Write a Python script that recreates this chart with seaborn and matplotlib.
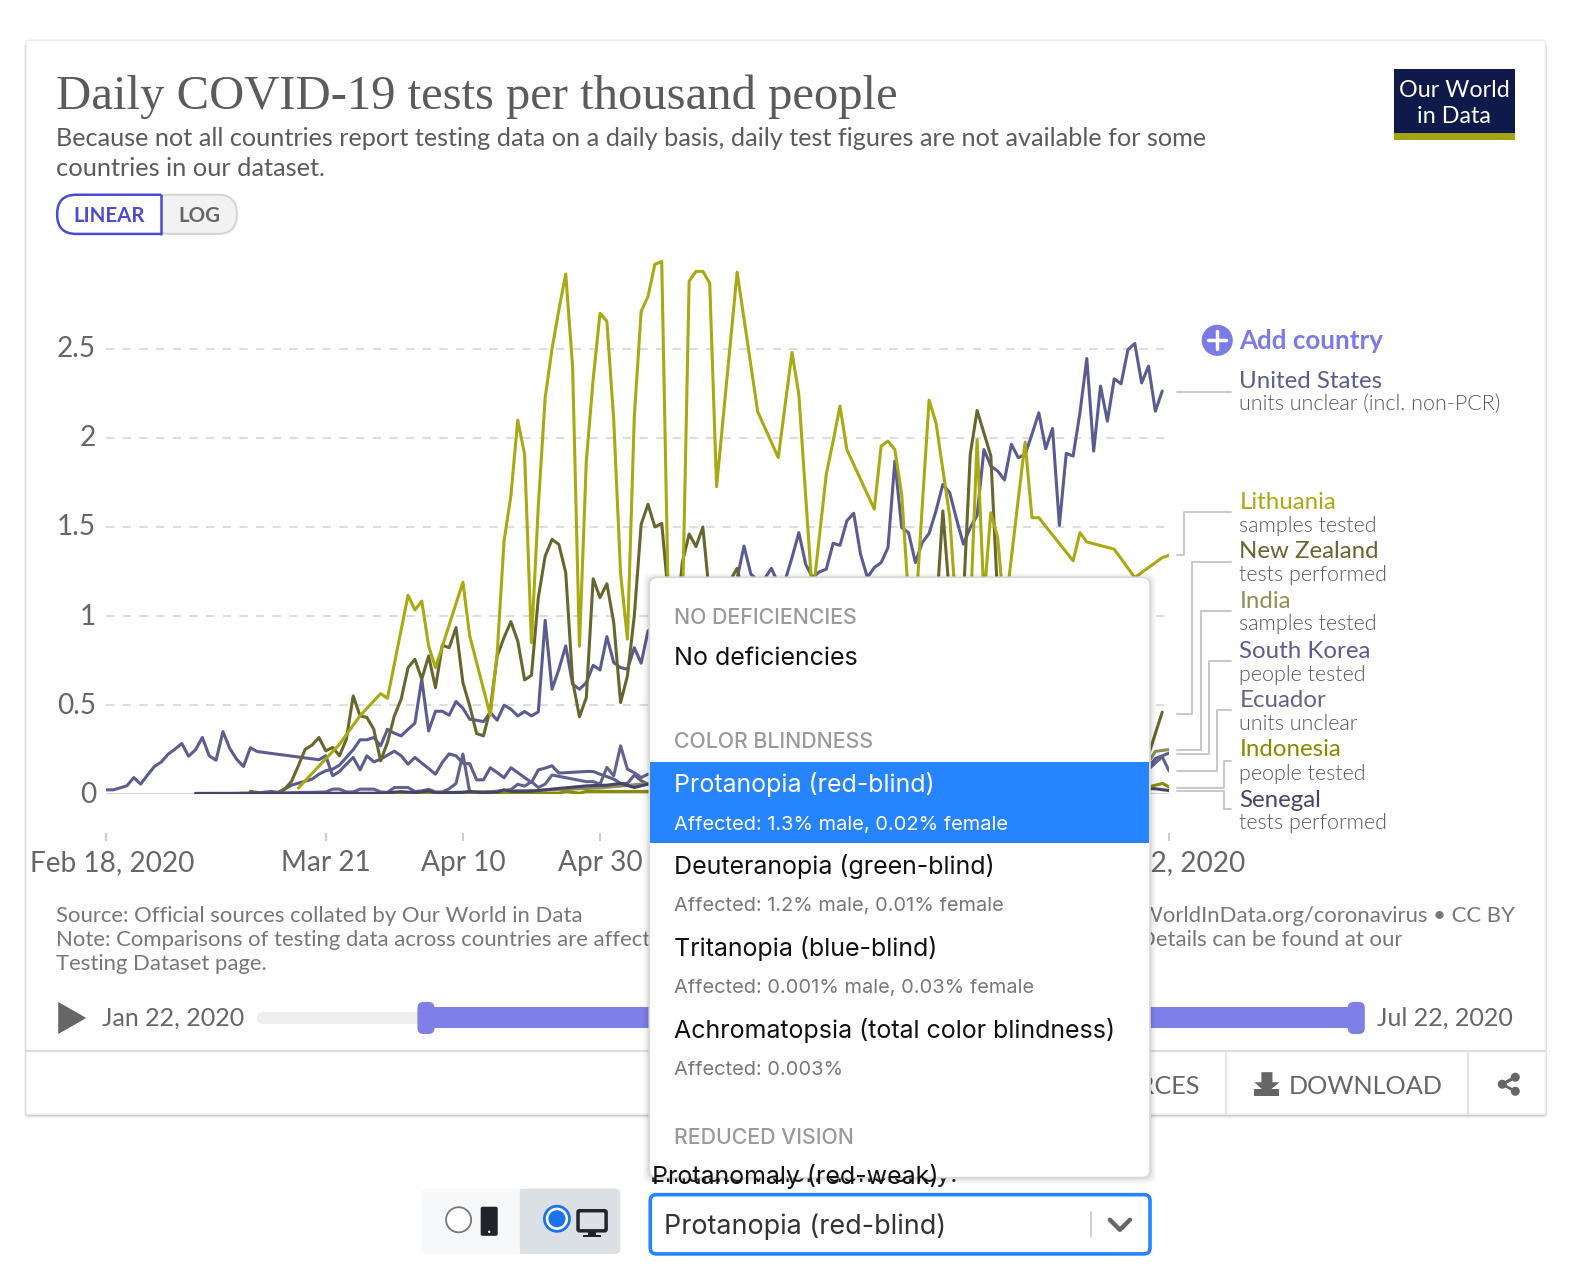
import numpy as np
import pandas as pd
import seaborn as sns
import matplotlib
matplotlib.use('Agg')
import matplotlib.pyplot as plt
from matplotlib.patches import FancyBboxPatch, Rectangle, Circle, Polygon
from matplotlib.transforms import ScaledTranslation

# x = days since Feb 18, 2020, y = daily tests per thousand
us_days = [19, 22, 24, 25, 26, 27] + list(range(30, 155))
us_vals = [.004, .006, .015, .01, .028, .05,
           .084, .112, .131, .14, .163, .206, .249, .305, .305, .318,
           .271, .364, .342, .327, .364, .398, .645, .355, .465, .465,
           .443, .52, .482, .42, .415, .407, .458, .415, .499, .477,
           .439, .464, .439, .462, .976, .589, .701, .832, .617, .589,
           .626, .723, .697, .884, .738, .71, .701, .822, .735, .916,
           .95, .9, 1.0, 1.1, 1.05, 1.15, 1.2, 1.1, 1.15, 1.2,
           1.15, 1.2, 1.21, 1.393, 1.235, 1.2, 1.21, 1.268, 1.18, 1.2,
           1.328, 1.468, 1.29, 1.216, 1.248, 1.263, 1.408, 1.397, 1.534, 1.577,
           1.347, 1.216, 1.272, 1.3, 1.384, 1.87, 1.496, 1.468, 1.3, 1.412,
           1.464, 1.59, 1.739, 1.693, 1.543, 1.403, 1.496, 1.565, 1.935, 1.842,
           1.814, 1.764, 1.964, 1.889, 1.907, 2.02, 2.141, 1.939, 2.053, 1.509,
           1.913, 1.898, 2.141, 2.446, 1.926, 2.291, 2.094, 2.332, 2.304, 2.496,
           2.53, 2.309, 2.403, 2.15, 2.263]

sk_days = list(range(23)) + list(range(31, 67)) + list(range(70, 80)) + [90, 100, 110, 120, 130, 140, 148, 152, 153, 155]
sk_vals = [.024, .024, .035, .047, .093, .056, .107, .155, .18, .224, .252, .284, .213, .249, .318, .215, .19, .351, .256, .196, .155, .26, .239,
           .193, .215, .103, .127, .168, .206, .136, .215, .181, .196,
           .219, .241, .215, .168, .206, .174, .144, .112, .178, .226,
           .215, .174, .17, .08, .08, .148, .121, .092, .148, .121,
           .093, .065, .136, .146, .159, .118,
           .127, .127, .112, .098, .084, .06, .06, .107, .075, .056,
           .07, .09, .1, .12, .1, .12, .13, .15, .2, .23]

ec_days = [20, 30, 32] + list(range(33, 54)) + [55, 58, 59, 60, 61, 62, 63, 64, 65] + list(range(70, 80)) + [90, 105, 120, 135, 150, 152, 154, 155]
ec_vals = [.002, .01, .012,
           .028, .028, .012, .012, .028, .028, .028, .012, .01, .037, .037, .037, .015, .018, .027, .012, .012, .03, .06, .225, .01,
           .01, .02, .025, .055, .045, .07, .037, .056, .107,
           .07, .07, .056, .15, .103, .271, .14, .12, .093, .112,
           .09, .11, .1, .12, .1, .14, .21, .13]

lt_days = [28, 29, 34, 37, 40, 41, 44, 45, 46, 47, 48, 52, 53, 56, 57, 58, 59, 60, 61, 62,
           63, 64, 65, 66, 67, 68, 69, 70, 71, 72, 73, 74, 75, 76, 77, 78, 79, 80, 81, 82,
           84, 85, 86, 87, 88, 89, 92, 95, 98, 100, 101, 103, 105, 106, 107, 108, 112, 113, 114, 115,
           116, 117, 118, 119, 120, 121, 122, 123, 124, 126, 127, 128, 129, 130, 131, 133, 134, 135, 136, 141,
           142, 143, 147, 150, 154, 155]
lt_vals = [.034, .075, .28, .44, .564, .538, 1.116, 1.034, 1.084, .832, .71, 1.19, .888, .44, .79, 1.42, 1.674, 2.1, 1.907, .85,
           1.618, 2.225, 2.5, 2.72, 2.92, 2.4, .83, 1.87, 2.33, 2.7, 2.655, 2.1, 1.24, .87, 2.12, 2.71, 2.795, 2.975, 2.99, 1.0,
           1.0, 2.88, 2.935, 2.935, 2.87, 1.726, 2.93, 2.147, 1.889, 2.48, 2.244, 1.1, 1.795, 1.982, 2.179, 1.935, 1.6, 1.954, 1.982, 1.935,
           1.683, 1.1, 1.0, 1.62, 2.212, 2.085, 1.823, 1.56, 1.0, 1.0, 1.99, 1.1, 1.58, 1.44, 1.0, 1.655, 1.977, 1.552, 1.552, 1.31,
           1.468, 1.416, 1.375, 1.216, 1.328, 1.341]

nz_days = [21, 23, 25] + list(range(26, 80)) + [80, 81, 82, 83, 84, 85, 86, 87, 88, 90, 91, 92, 93, 100, 110, 119, 121, 122, 123, 125, 126, 127, 129, 130, 135, 145, 150, 152, 154]
nz_vals = [.015, .004, .004,
           .028, .071, .159, .252,
           .275, .318, .243, .262, .215, .308, .551, .439, .43, .364,
           .187, .29, .439, .533, .71, .757, .645, .776, .598, .836,
           .822, .935, .626, .495, .34, .327, .477, .776, .879, .968,
           .86, .641, .667, 1.103, 1.336, 1.43, 1.402, 1.243, .636, .434,
           .542, 1.209, 1.103, 1.181, .963, .514, .664, 1.0, 1.515, 1.627,
           1.5, 1.52, 1.1, .9, 1.3, 1.46, 1.39, 1.5, 1.1, .9, 1.2, 1.268, 1.1, .8, .7, .8, 1.0, 1.59, 1.1, 1.1, 1.907, 2.154, 1.9, 1.1, .8, .4, .15, .22, .46]

in_days = [35, 45, 57, 62, 66, 72, 75, 79, 95, 115, 135, 150, 152, 153, 155]
in_vals = [.002, .005, .015, .02, .025, .035, .045, .06, .08, .11, .15, .17, .18, .24, .25]

id_days = [25, 50, 60, 66, 67, 69, 70, 79, 100, 130, 150, 152, 154, 155]
id_vals = [.002, .004, .005, .005, .015, .005, .015, .015, .02, .03, .03, .04, .06, .04]

sn_days = [13, 40, 43, 45, 47, 48, 50, 52, 53, 55, 57, 58, 59, 62, 64, 66, 70, 71, 73, 75, 77, 79, 100, 130, 150, 153, 155]
sn_vals = [.004, .005, .014, .008, .018, .008, .008, .01, .015, .008, .012, .024, .016, .016, .024, .032, .046, .048, .05, .06, .037, .056, .04, .03, .03, .03, .02]

countries = ['South Korea', 'Ecuador', 'United States', 'New Zealand', 'Lithuania', 'India', 'Indonesia', 'Senegal']
colors = ['#5c5c8e', '#62628e', '#5b5b93', '#66662e', '#a9a912', '#8f8f55', '#8a8a00', '#44446f']
series = [(sk_days, sk_vals), (ec_days, ec_vals), (us_days, us_vals), (nz_days, nz_vals),
          (lt_days, lt_vals), (in_days, in_vals), (id_days, id_vals), (sn_days, sn_vals)]

y_ticks = [0, 0.5, 1, 1.5, 2, 2.5]
y_labels = ['0', '0.5', '1', '1.5', '2', '2.5']
x_ticks = [0, 32, 52, 72, 155]
x_labels = ['Feb 18, 2020', 'Mar 21', 'Apr 10', 'Apr 30', 'Jul 22, 2020']

# right hand labels: name, unit, colour
entity_labels = [
    ('United States', 'units unclear (incl. non-PCR)', '#5b5b93', 380, 403),
    ('Lithuania', 'samples tested', '#a9a912', 501, 524),
    ('New Zealand', 'tests performed', '#66662e', 549, 573),
    ('India', 'samples tested', '#8f8f55', 599, 622),
    ('South Korea', 'people tested', '#5c5c8e', 649, 672),
    ('Ecuador', 'units unclear', '#62628e', 698, 721),
    ('Indonesia', 'people tested', '#8a8a00', 747, 771),
    ('Senegal', 'tests performed', '#44446f', 797, 820),
]
leaders = [
    ([1173, 1227], [390, 390]),
    ([1173, 1180, 1180, 1227], [553, 553, 510, 510]),
    ([1173, 1188, 1188, 1227], [711, 711, 560, 560]),
    ([1173, 1197, 1197, 1227], [747, 747, 609, 609]),
    ([1173, 1205, 1205, 1227], [751, 751, 658, 658]),
    ([1173, 1213, 1213, 1227], [768, 768, 707, 707]),
    ([1173, 1220, 1220, 1227], [785, 785, 758, 758]),
    ([1173, 1220, 1220, 1227], [788, 788, 806, 806]),
]

VIEW_W, VIEW_H = 1568.5, 1275
sns.set_theme(style='white')
fig = plt.figure(figsize=(15.74, 12.8), dpi=100, facecolor='white')

df = pd.concat([pd.DataFrame({'day': d, 'tests': v, 'country': c}) for c, (d, v) in zip(countries, series)])


def layer(z):
    a = fig.add_axes([0, 0, 1, 1], zorder=z)
    a.set_xlim(0, VIEW_W)
    a.set_ylim(VIEW_H, 0)
    a.axis('off')
    a.patch.set_alpha(0)
    return a


def rbox(a, x0, y0, x1, y1, r, **kw):
    p = FancyBboxPatch((x0, y0), x1 - x0, y1 - y0, boxstyle=f'round,pad=0,rounding_size={r}', **kw)
    a.add_patch(p)
    return p


def label(a, x, y, s, px, color='#5b5b5b', family='Lato', weight='normal', ha='left', va='center', **kw):
    return a.text(x, y, s, fontsize=px * 0.72, color=color, family=family, fontweight=weight, ha=ha, va=va, **kw)


# card behind the chart
bg = layer(0)
for i, al in enumerate([0.03, 0.05, 0.08, 0.14]):
    g = 4 - i
    rbox(bg, 26 - g * 0.5, 43, 1540 + g * 0.5, 1110 + g, 3, fc='black', ec='none', alpha=al)
rbox(bg, 26, 40, 1540, 1110, 2, fc='white', ec='#ececec', lw=1)
bg.plot([26, 1540], [1047, 1047], color='#dcdcdc', lw=1.5)
bg.plot([1222, 1222], [1047, 1110], color='#e4e4e4', lw=1.5)
bg.plot([1463, 1463], [1047, 1110], color='#e4e4e4', lw=1.5)

# the chart itself
ax = fig.add_axes([106 / VIEW_W, 1 - 791 / VIEW_H, (1165 - 106) / VIEW_W, (791 - 258.8) / VIEW_H], zorder=1)
ax.patch.set_alpha(0)
ax.grid(axis='y', color='#dddddd', linestyle=(0, (4, 4)), lw=1.5)
ax.axhline(0, color='#cfcfcf', lw=1.5)
sns.lineplot(data=df, x='day', y='tests', hue='country', hue_order=countries, palette=colors,
             estimator=None, errorbar=None, linewidth=2.2, legend=False, ax=ax)
ax.set_xlim(0, 155)
ax.set_ylim(0, 3)
ax.set_xlabel('')
ax.set_ylabel('')
sns.despine(ax=ax, left=True, bottom=True, top=True, right=True)
ax.spines['bottom'].set_position(('outward', 28))
ax.set_xticks(x_ticks, x_labels)
ax.set_yticks(y_ticks, y_labels)
ax.tick_params(axis='x', length=6, width=1.5, color='#cccccc', pad=6.5, labelsize=28 * 0.72, labelcolor='#666666', bottom=True)
ax.tick_params(axis='y', length=0, pad=7.5, labelsize=28 * 0.72, labelcolor='#666666', left=False)
for t in ax.get_xticklabels() + ax.get_yticklabels():
    t.set_family('Lato')
# nudge the labels to where the page puts them
for t in ax.get_yticklabels():
    t.set_transform(t.get_transform() + ScaledTranslation(0, 2 / 100, fig.dpi_scale_trans))
first = ax.get_xticklabels()[0]
first.set_transform(first.get_transform() + ScaledTranslation(5.5 / 100, 0, fig.dpi_scale_trans))

# everything else on top
fg = layer(2)
label(fg, 56, 96, 'Daily COVID-19 tests per thousand people', 48.6, color='#5b5b5b', family='Liberation Serif')
label(fg, 56, 138, 'Because not all countries report testing data on a daily basis, daily test figures are not available for some', 25.2)
label(fg, 56, 168, 'countries in our dataset.', 25.4)

# logo
fg.add_patch(Rectangle((1389, 69), 121, 70, fc='#0f1a4a', ec='none'))
fg.add_patch(Rectangle((1389, 132), 121, 7, fc='#a3a315', ec='none'))
label(fg, 1449, 90, 'Our World', 23.3, color='white', ha='center')
label(fg, 1449, 116, 'in Data', 23.3, color='white', ha='center')

# linear / log toggle
rbox(fg, 150, 194, 236, 233, 19, fc='#f2f2f2', ec='#d5d5d5', lw=1.5)
lin = rbox(fg, 57, 194, 200, 233, 19, fc='white', ec='#4b4bd0', lw=1.8)
lin.set_clip_path(Rectangle((50, 185), 110.5, 60, transform=fg.transData))
fg.plot([160.5, 160.5], [194, 233], color='#4b4bd0', lw=1.8)
label(fg, 109, 215, 'LINEAR', 20.5, color='#4b4bd0', weight='bold', ha='center')
label(fg, 199, 215, 'LOG', 20.5, color='#666666', weight='bold', ha='center')

# add country
fg.add_patch(Circle((1213, 339), 15.5, fc='#7b7be8', ec='none'))
fg.plot([1204, 1222], [339, 339], color='white', lw=2.5)
fg.plot([1213, 1213], [330, 348], color='white', lw=2.5)
label(fg, 1235, 340, 'Add country', 26, color='#7b7be8', weight='bold')

# line labels
for (xs, ys) in leaders:
    fg.plot(xs, ys, color='#c4c4c4', lw=1.3)
for name, unit, col, y1, y2 in entity_labels:
    label(fg, 1235, y1, name, 24, color=col)
    label(fg, 1235, y2, unit, 21.5, color='#555555', weight=300)

# sources
label(fg, 56, 912.5, 'Source: Official sources collated by Our World in Data', 22.1, color='#777777')
label(fg, 56, 936.5, 'Note: Comparisons of testing data across countries are affect', 22.1, color='#777777')
label(fg, 56, 960.5, 'Testing Dataset page.', 22.1, color='#777777')
label(fg, 1510, 912.5, 'OurWorldInData.org/coronavirus \u2022 CC BY', 22.1, color='#777777', ha='right')
label(fg, 1397, 936.5, 'Details can be found at our', 22.1, color='#777777', ha='right')

# timeline
fg.add_patch(Polygon([(58, 998), (58, 1030), (86, 1014)], fc='#666666', ec='none'))
label(fg, 102, 1014.5, 'Jan 22, 2020', 25, color='#666666')
rbox(fg, 256, 1008, 420, 1020, 6, fc='#eeeeee', ec='none')
fg.add_patch(Rectangle((424, 1003), 927, 21, fc='#7f7fe8', ec='none'))
rbox(fg, 416, 998, 433, 1030, 6, fc='#7f7fe8', ec='none')
rbox(fg, 1343, 998, 1360, 1030, 6, fc='#7f7fe8', ec='none')
label(fg, 1508, 1014.5, 'Jul 22, 2020', 25, color='#666666', ha='right')

# footer buttons
label(fg, 1195, 1082, 'SOURCES', 25.3, color='#666666', ha='right')
label(fg, 1284, 1082, 'DOWNLOAD', 25.3, color='#666666')
fg.add_patch(Polygon([(1257, 1068), (1268, 1068), (1268, 1078), (1275, 1078), (1262, 1089), (1250, 1078), (1257, 1078)], fc='#666666', ec='none'))
fg.add_patch(Rectangle((1250, 1085), 25, 7, fc='#666666', ec='none'))
fg.plot([1497, 1510, 1497, 1510], [1080, 1073, 1080, 1087], color='#666666', lw=2)
for cx, cy in [(1497, 1080), (1510, 1073), (1510, 1087)]:
    fg.add_patch(Circle((cx, cy), 4.5, fc='#666666', ec='none'))

# the dropdown, covers part of the chart
fg2 = layer(3)
label(fg2, 648, 1171, 'Emulate vision deficiency:', 25, color='#222222', family='Inter', zorder=0.5)
for i, al in enumerate([0.03, 0.04, 0.06]):
    g = 6 - 2 * i
    rbox(fg2, 647 - g, 575 - g + 2, 1146 + g, 1173 + g, 8, fc='black', ec='none', alpha=al, zorder=0.6)
menu = rbox(fg2, 647, 575, 1146, 1173, 8, fc='white', ec='#d9d9d9', lw=1.2, zorder=0.7)
fg2.add_patch(Rectangle((648, 759), 497, 81, fc='#2684ff', ec='none', zorder=0.8))

header_col = '#999999'
label(fg2, 672, 615.5, 'NO DEFICIENCIES', 21.3, color=header_col, family='Inter', weight='medium')
label(fg2, 672, 655.5, 'No deficiencies', 25, color='#111111', family='Inter')
label(fg2, 672, 739.5, 'COLOR BLINDNESS', 21.3, color=header_col, family='Inter', weight='medium')
label(fg2, 672, 781, 'Protanopia (red-blind)', 25, color='white', family='Inter')
label(fg2, 672, 821.5, 'Affected: 1.3% male, 0.02% female', 20, color='white', family='Inter')
label(fg2, 672, 863, 'Deuteranopia (green-blind)', 25, color='#111111', family='Inter')
label(fg2, 672, 902.5, 'Affected: 1.2% male, 0.01% female', 20, color='#777777', family='Inter')
label(fg2, 672, 945, 'Tritanopia (blue-blind)', 25, color='#111111', family='Inter')
label(fg2, 672, 984.5, 'Affected: 0.001% male, 0.03% female', 20, color='#777777', family='Inter')
label(fg2, 672, 1026, 'Achromatopsia (total color blindness)', 25, color='#111111', family='Inter')
label(fg2, 672, 1065.5, 'Affected: 0.003%', 20, color='#777777', family='Inter')
label(fg2, 672, 1133.5, 'REDUCED VISION', 21.3, color=header_col, family='Inter', weight='medium')
weak = label(fg2, 650, 1172, 'Protanomaly (red-weak)', 25, color='#111111', family='Inter')
weak.set_clip_on(True)
weak.set_clip_path(menu)

# device switch
rbox(fg2, 420, 1184, 618, 1249, 5, fc='#f7f8f9', ec='none')
rbox(fg2, 518, 1184, 618, 1249, 5, fc='#dbe0e5', ec='none')
fg2.add_patch(Rectangle((518, 1184), 10, 65, fc='#dbe0e5', ec='none'))
fg2.add_patch(Circle((457, 1215), 12.5, fc='white', ec='#777777', lw=1.3))
rbox(fg2, 479, 1202, 496, 1231, 2, fc='#212529', ec='none')
fg2.add_patch(Circle((487.5, 1227), 1.2, fc='white', ec='none'))
fg2.add_patch(Circle((555, 1214), 12.5, fc='white', ec='#1a73e8', lw=2))
fg2.add_patch(Circle((555, 1214), 8.5, fc='#1a73e8', ec='none'))
rbox(fg2, 576, 1206, 604, 1226, 1.5, fc='#dbe0e5', ec='#212529', lw=2.5)
fg2.add_patch(Rectangle((586, 1226), 8, 5, fc='#212529', ec='none'))
fg2.add_patch(Rectangle((581, 1230), 18, 2.5, fc='#212529', ec='none'))

# select box
rbox(fg2, 648, 1190, 1146, 1249, 6, fc='white', ec='#2684ff', lw=2.6)
label(fg2, 662, 1221.5, 'Protanopia (red-blind)', 27, color='#333333', family='Inter')
fg2.plot([1087, 1087], [1207, 1232], color='#cccccc', lw=1.3)
fg2.plot([1106, 1116, 1126], [1215, 1225, 1215], color='#666666', lw=3.2)

fig.savefig('out.png', dpi=100)
